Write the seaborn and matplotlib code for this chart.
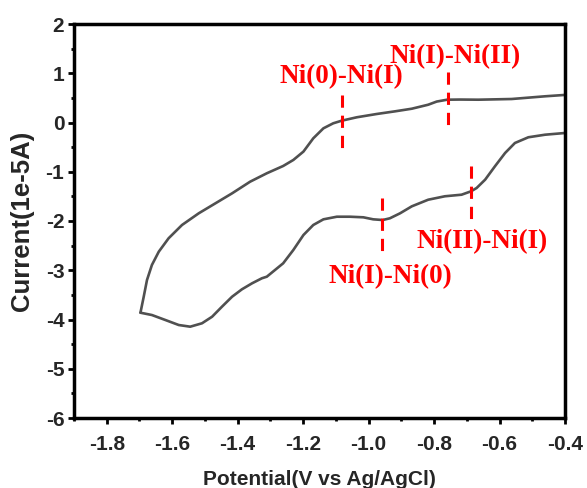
import numpy as np
import pandas as pd
import matplotlib
matplotlib.use("Agg")
import matplotlib.pyplot as plt
import seaborn as sns
from matplotlib.ticker import MultipleLocator, FormatStrFormatter

# ---- data ----
# anodic (upper) branch, from -1.7 V to -0.4 V
upper_v = [-1.697, -1.687, -1.677, -1.662, -1.641, -1.611, -1.570, -1.519, -1.468,
           -1.417, -1.362, -1.311, -1.261, -1.230, -1.199, -1.169, -1.138, -1.108,
           -1.082, -1.036, -0.975, -0.919, -0.868, -0.818, -0.792, -0.760, -0.720,
           -0.665, -0.563, -0.461, -0.400]
upper_i = [-3.862, -3.537, -3.198, -2.893, -2.623, -2.351, -2.081, -1.844, -1.641,
           -1.438, -1.202, -1.031, -0.883, -0.761, -0.590, -0.321, -0.118, -0.016,
           0.037, 0.106, 0.173, 0.227, 0.280, 0.361, 0.425, 0.463, 0.466,
           0.463, 0.477, 0.532, 0.560]
# cathodic (lower) branch, from -0.4 V back to -1.7 V
lower_v = [-0.400, -0.461, -0.512, -0.553, -0.583, -0.614, -0.644, -0.670, -0.687,
           -0.716, -0.767, -0.818, -0.868, -0.904, -0.935, -0.957, -0.986, -1.016,
           -1.057, -1.097, -1.138, -1.169, -1.199, -1.230, -1.261, -1.311, -1.326,
           -1.356, -1.387, -1.417, -1.448, -1.478, -1.509, -1.545, -1.580, -1.621,
           -1.662, -1.697]
lower_i = [-0.213, -0.248, -0.300, -0.416, -0.619, -0.889, -1.161, -1.330, -1.397,
           -1.466, -1.498, -1.568, -1.702, -1.844, -1.945, -1.980, -1.966, -1.925,
           -1.913, -1.913, -1.966, -2.081, -2.284, -2.589, -2.859, -3.131, -3.163,
           -3.265, -3.387, -3.537, -3.740, -3.943, -4.077, -4.146, -4.112, -4.010,
           -3.909, -3.862]

# annotations: label, text position, marker line x, marker line y-range
ann_labels = ["Ni(0)-Ni(I)", "Ni(I)-Ni(II)", "Ni(I)-Ni(0)", "Ni(II)-Ni(I)"]
ann_text_x = [-1.084, -0.736, -0.932, -0.654]
ann_text_y = [0.924, 1.33, -3.131, -2.416]
mark_x = [-1.080, -0.758, -0.958, -0.687]
mark_top = [0.55, 1.02, -1.54, -0.88]
mark_bot = [-0.58, -0.05, -2.66, -1.98]

x_ticks = [-1.8, -1.6, -1.4, -1.2, -1.0, -0.8, -0.6, -0.4]
y_ticks = [-6, -5, -4, -3, -2, -1, 0, 1, 2]

# ---- style ----
sns.set_style("ticks")
plt.rcParams['font.family'] = ['Liberation Sans', 'DejaVu Sans']
plt.rcParams['axes.unicode_minus'] = False

df = pd.DataFrame({
    "Potential": upper_v + lower_v,
    "Current": upper_i + lower_i,
    "branch": ["up"] * len(upper_v) + ["down"] * len(lower_v),
})

fig = plt.figure(figsize=(5.87, 4.88), dpi=100)
ax = fig.add_axes([74 / 587, 1 - 418 / 488, (565 - 74) / 587, (418 - 24) / 488])

sns.lineplot(data=df, x="Potential", y="Current", units="branch", estimator=None,
             sort=False, color="#505050", linewidth=1.9, ax=ax, legend=False)
for ln in ax.get_lines():
    ln.set_solid_joinstyle("round")
    ln.set_solid_capstyle("round")

red = "#ff0000"
for lab, tx, ty, mx, mt, mb in zip(ann_labels, ann_text_x, ann_text_y, mark_x, mark_top, mark_bot):
    ax.plot([mx, mx], [mt, mb], color=red, linewidth=2.2, linestyle=(0, (4, 2.6)))
    ax.text(tx, ty, lab, color=red, fontsize=19.5, fontweight="bold",
            family=["Liberation Serif", "DejaVu Serif"], ha="center", va="center")

ax.set_xlim(-1.9, -0.4)
ax.set_ylim(-6, 2)
ax.set_xticks(x_ticks)
ax.set_yticks(y_ticks)
ax.xaxis.set_major_formatter(FormatStrFormatter('%.1f'))
ax.yaxis.set_major_formatter(FormatStrFormatter('%d'))
ax.xaxis.set_minor_locator(MultipleLocator(0.1))
ax.yaxis.set_minor_locator(MultipleLocator(0.5))

for s in ax.spines.values():
    s.set_visible(True)
    s.set_linewidth(2.5)
    s.set_color("black")

ax.tick_params(axis='both', which='major', direction='out', length=4, width=2,
               labelsize=15, color='black')
ax.tick_params(axis='both', which='minor', direction='out', length=2.2, width=2,
               color='black')
ax.tick_params(axis='x', which='major', pad=8.5)
ax.tick_params(axis='y', which='major', pad=3)
for lab in ax.get_xticklabels() + ax.get_yticklabels():
    lab.set_fontweight('bold')

ax.set_xlabel("Potential(V vs Ag/AgCl)", fontsize=15, fontweight="bold", labelpad=11)
ax.set_ylabel("Current(1e-5A)", fontsize=18.5, fontweight="bold", labelpad=8)

fig.savefig("out.png", dpi=100)
